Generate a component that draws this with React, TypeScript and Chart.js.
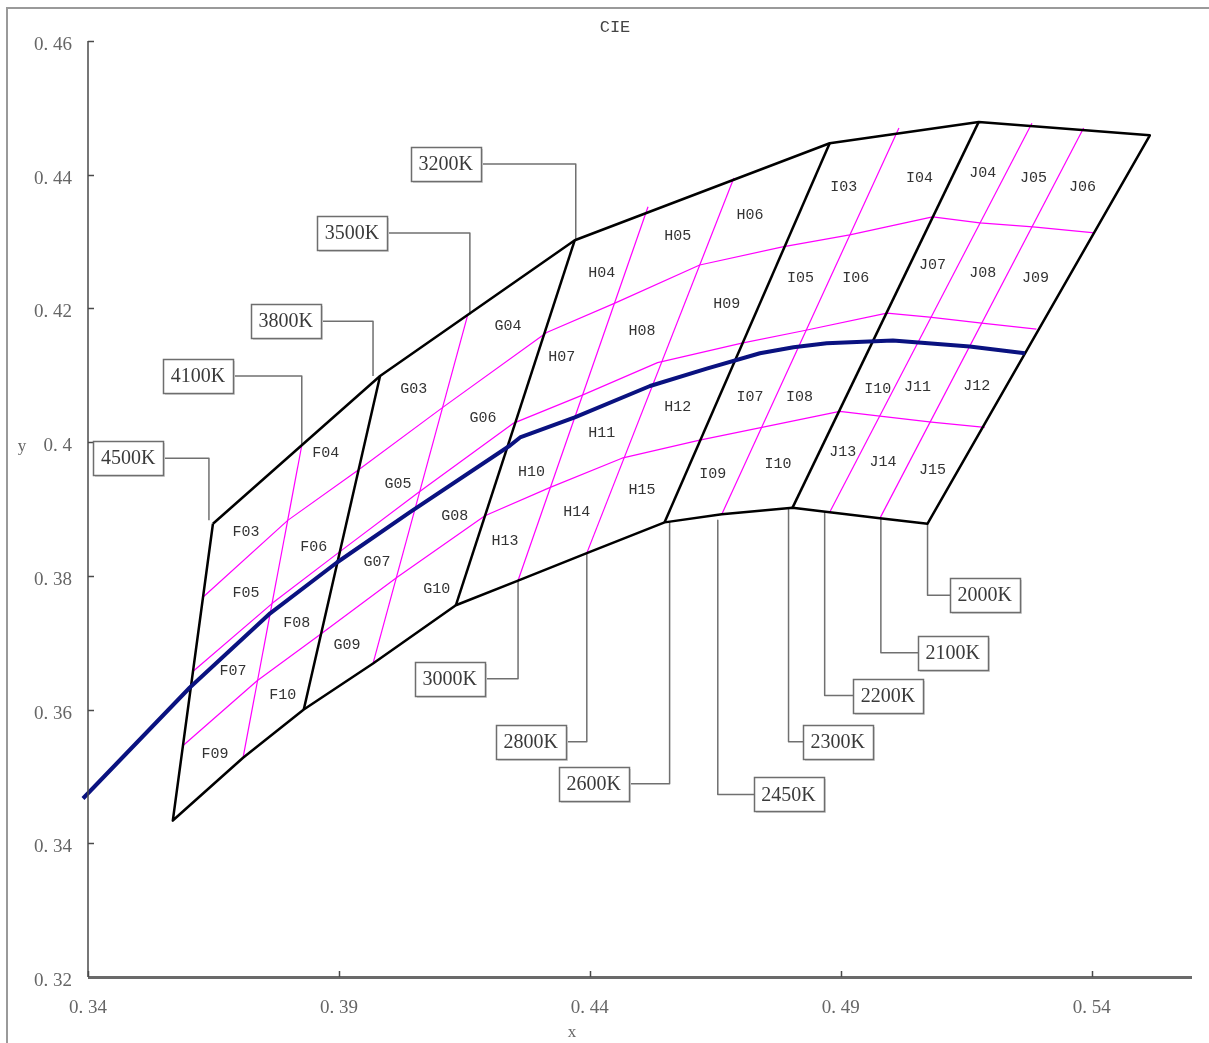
import { useEffect, useRef } from "react";
import { Chart, registerables } from "chart.js";

Chart.register(...registerables);

type Pt = [number, number];

const chartTitle = "CIE";
const xAxisTitle = "x";
const yAxisTitle = "y";
const xRange: Pt = [0.34, 0.56];
const yRange: Pt = [0.32, 0.46];
const xTicks = [0.34, 0.39, 0.44, 0.49, 0.54];
const xTickLabels = ["0. 34", "0. 39", "0. 44", "0. 49", "0. 54"];
const yTicks = [0.32, 0.34, 0.36, 0.38, 0.4, 0.42, 0.44, 0.46];
const yTickLabels = ["0. 32", "0. 34", "0. 36", "0. 38", "0. 4", "0. 42", "0. 44", "0. 46"];

// Outer boundary of the quadrangles (closed)
const outline: Pt[] = [
  [0.3649, 0.3878], [0.3982, 0.4099], [0.437, 0.4302], [0.4878, 0.4447], [0.5175, 0.4479],
  [0.5516, 0.4459], [0.5073, 0.3878], [0.4978, 0.3886], [0.4878, 0.3895], [0.4804, 0.3902],
  [0.4663, 0.3892], [0.4549, 0.388], [0.4394, 0.3834], [0.4257, 0.3793], [0.4133, 0.3756],
  [0.3968, 0.3669], [0.383, 0.36], [0.3709, 0.3528], [0.3569, 0.3434], [0.3649, 0.3878],
];

// Black block separators F|G, G|H, H|I, I|J
const dividerFG: Pt[] = [[0.3982, 0.4099], [0.383, 0.36]];
const dividerGH: Pt[] = [[0.437, 0.4302], [0.4133, 0.3756]];
const dividerHI: Pt[] = [[0.4878, 0.4447], [0.4549, 0.388]];
const dividerIJ: Pt[] = [[0.5175, 0.4479], [0.4804, 0.3902]];

// Magenta sub-divisions (along CCT)
const diagF: Pt[] = [[0.3826, 0.3995], [0.3709, 0.3528]];
const diagG: Pt[] = [[0.4157, 0.4191], [0.3968, 0.3669]];
const diagH1: Pt[] = [[0.4516, 0.4352], [0.4257, 0.3793]];
const diagH2: Pt[] = [[0.4687, 0.4395], [0.4394, 0.3834]];
const diagI: Pt[] = [[0.5016, 0.447], [0.4663, 0.3892]];
const diagJ1: Pt[] = [[0.5281, 0.4477], [0.4878, 0.3895]];
const diagJ2: Pt[] = [[0.5384, 0.447], [0.4978, 0.3886]];

// Magenta sub-divisions (across CCT)
const upperLine: Pt[] = [
  [0.3629, 0.3768], [0.3798, 0.3883], [0.3938, 0.3958], [0.4107, 0.4052], [0.4314, 0.4164],
  [0.445, 0.4208], [0.4619, 0.4265], [0.4784, 0.4292], [0.4918, 0.431], [0.5083, 0.4337],
  [0.5177, 0.4328], [0.5283, 0.4322], [0.5406, 0.4313],
];
const middleLine: Pt[] = [
  [0.3609, 0.3657], [0.3769, 0.376], [0.3898, 0.3834], [0.4059, 0.3925], [0.4247, 0.4028],
  [0.4384, 0.407], [0.4535, 0.4119], [0.4703, 0.4148], [0.4828, 0.4167], [0.4992, 0.4193],
  [0.5077, 0.4187], [0.5181, 0.4178], [0.529, 0.4169],
];
const lowerLine: Pt[] = [
  [0.3589, 0.3546], [0.3737, 0.3643], [0.3862, 0.3712], [0.4016, 0.3798], [0.4191, 0.389],
  [0.432, 0.3932], [0.4464, 0.3976], [0.4619, 0.4003], [0.4743, 0.4022], [0.4898, 0.4046],
  [0.4978, 0.4039], [0.5081, 0.403], [0.5187, 0.4022],
];

// Planckian locus (blue)
const planckian: Pt[] = [
  [0.339, 0.3467], [0.3603, 0.3633], [0.3763, 0.3744], [0.3896, 0.382], [0.4041, 0.3895],
  [0.4241, 0.3995], [0.4261, 0.4007], [0.437, 0.4037], [0.452, 0.4084], [0.4633, 0.411],
  [0.4739, 0.4133], [0.4806, 0.4142], [0.4872, 0.4148], [0.5004, 0.4152], [0.5157, 0.4143],
  [0.5267, 0.4133],
];

// Cell names
const cellNames = [
  "F03", "F04", "F05", "F06", "F07", "F08", "F09", "F10",
  "G03", "G04", "G05", "G06", "G07", "G08", "G09", "G10",
  "H04", "H05", "H06", "H07", "H08", "H09", "H10", "H11", "H12", "H13", "H14", "H15",
  "I03", "I04", "I05", "I06", "I07", "I08", "I09", "I10", "I10",
  "J04", "J05", "J06", "J07", "J08", "J09", "J11", "J12", "J13", "J14", "J15",
];
const cellX = [
  0.3715, 0.3874, 0.3715, 0.385, 0.3689, 0.3816, 0.3653, 0.3788,
  0.4049, 0.4237, 0.4018, 0.4187, 0.3976, 0.4131, 0.3916, 0.4095,
  0.4424, 0.4575, 0.4719, 0.4344, 0.4504, 0.4673, 0.4284, 0.4424, 0.4575, 0.4231, 0.4374, 0.4504,
  0.4906, 0.5057, 0.482, 0.493, 0.4719, 0.4818, 0.4645, 0.4775, 0.4974,
  0.5183, 0.5284, 0.5382, 0.5083, 0.5183, 0.5288, 0.5053, 0.5171, 0.4904, 0.4984, 0.5083,
];
const cellY = [
  0.3865, 0.3983, 0.3775, 0.3843, 0.3657, 0.3729, 0.3534, 0.3622,
  0.4079, 0.4173, 0.3938, 0.4036, 0.382, 0.3889, 0.3697, 0.378,
  0.4253, 0.4308, 0.434, 0.4128, 0.4166, 0.4206, 0.3955, 0.4013, 0.4052, 0.3852, 0.3895, 0.3929,
  0.4381, 0.4395, 0.4245, 0.4245, 0.4067, 0.4067, 0.3953, 0.3967, 0.4079,
  0.4402, 0.4395, 0.4381, 0.4265, 0.4253, 0.4245, 0.4082, 0.4084, 0.3985, 0.397, 0.3959,
];

// CCT call-outs
const cctNames = ["4500K", "4100K", "3800K", "3500K", "3200K", "3000K", "2800K", "2600K", "2450K", "2300K", "2200K", "2100K", "2000K"];
const cctAnchorX = [0.3641, 0.3826, 0.3968, 0.4161, 0.4372, 0.4257, 0.4394, 0.4559, 0.4655, 0.4796, 0.4868, 0.498, 0.5073];
const cctAnchorY = [0.3883, 0.3995, 0.4099, 0.4191, 0.4302, 0.3793, 0.3834, 0.388, 0.3883, 0.3902, 0.3895, 0.3886, 0.3878];
const cctBoxX = [0.348, 0.3619, 0.3794, 0.3926, 0.4113, 0.4121, 0.4282, 0.4408, 0.4796, 0.4894, 0.4994, 0.5123, 0.5187];
const cctBoxY = [0.3976, 0.4099, 0.4181, 0.4313, 0.4416, 0.3646, 0.3552, 0.3489, 0.3473, 0.3552, 0.3621, 0.3685, 0.3771];

const toXY = (pts: Pt[]) => pts.map(([x, y]) => ({ x, y }));

const lineSet = (pts: Pt[], color: string, width: number, order: number) => ({
  data: toXY(pts),
  showLine: true,
  borderColor: color,
  backgroundColor: color,
  borderWidth: width,
  pointRadius: 0,
  pointHoverRadius: 0,
  tension: 0,
  clip: false as any,
  order,
  borderJoinStyle: "round" as const,
  borderCapStyle: "butt" as const,
});

const decor = {
  id: "decor",
  beforeDraw(chart: any) {
    const { ctx, width, height } = chart;
    ctx.save();
    ctx.fillStyle = "#ffffff";
    ctx.fillRect(0, 0, width, height);
    ctx.restore();
  },
  afterDraw(chart: any) {
    const ctx: CanvasRenderingContext2D = chart.ctx;
    const xs = chart.scales.x;
    const ys = chart.scales.y;
    const area = chart.chartArea;
    ctx.save();

    // outer frame
    ctx.strokeStyle = "#9a9a9a";
    ctx.lineWidth = 2;
    ctx.strokeRect(7, 8, 1400, 1200);

    // y axis
    ctx.strokeStyle = "#4a4a4a";
    ctx.lineWidth = 1.5;
    ctx.beginPath();
    ctx.moveTo(area.left, area.top);
    ctx.lineTo(area.left, area.bottom);
    ctx.stroke();
    yTicks.forEach((v) => {
      const py = Math.round(ys.getPixelForValue(v)) + 0.5;
      ctx.beginPath();
      ctx.moveTo(area.left, py);
      ctx.lineTo(area.left + 6, py);
      ctx.stroke();
    });
    // x axis
    ctx.strokeStyle = "#6a6a6a";
    ctx.lineWidth = 3;
    ctx.beginPath();
    ctx.moveTo(area.left, area.bottom + 0.5);
    ctx.lineTo(area.right, area.bottom + 0.5);
    ctx.stroke();
    ctx.lineWidth = 1.5;
    ctx.strokeStyle = "#4a4a4a";
    xTicks.forEach((v) => {
      const px = Math.round(xs.getPixelForValue(v)) + 0.5;
      ctx.beginPath();
      ctx.moveTo(px, area.bottom);
      ctx.lineTo(px, area.bottom - 6);
      ctx.stroke();
    });

    // tick labels
    ctx.fillStyle = "#666666";
    ctx.font = '19px "Liberation Serif"';
    ctx.textBaseline = "middle";
    ctx.textAlign = "right";
    yTicks.forEach((v, i) => {
      ctx.fillText(yTickLabels[i], area.left - 16, ys.getPixelForValue(v) + 4);
    });
    ctx.textAlign = "center";
    xTicks.forEach((v, i) => {
      ctx.fillText(xTickLabels[i], xs.getPixelForValue(v), area.bottom + 31);
    });
    ctx.font = '17px "Liberation Serif"';
    ctx.fillText(xAxisTitle, 572, area.bottom + 56);
    ctx.fillText(yAxisTitle, 22, ys.getPixelForValue(0.4) + 4);

    // title
    ctx.fillStyle = "#444444";
    ctx.font = '17px "Liberation Mono"';
    ctx.fillText(chartTitle, 615, 27);

    // cell names
    ctx.fillStyle = "#333333";
    ctx.font = '15px "Liberation Mono"';
    cellNames.forEach((n, i) => {
      ctx.fillText(n, xs.getPixelForValue(cellX[i]), ys.getPixelForValue(cellY[i]));
    });

    // call-out boxes
    const bw = 70;
    const bh = 34;
    ctx.font = '20px "Liberation Serif"';
    cctNames.forEach((n, i) => {
      const cx = xs.getPixelForValue(cctBoxX[i]);
      const cy = ys.getPixelForValue(cctBoxY[i]);
      const l = Math.round(cx - bw / 2) + 0.5;
      const t = Math.round(cy - bh / 2) + 0.5;
      ctx.fillStyle = "#d8d8d8";
      ctx.fillRect(l + 1.5, t + 1.5, bw, bh);
      ctx.fillStyle = "#ffffff";
      ctx.fillRect(l, t, bw, bh);
      ctx.strokeStyle = "#6e6e6e";
      ctx.lineWidth = 1.5;
      ctx.strokeRect(l, t, bw, bh);
      ctx.fillStyle = "#3a3a3a";
      ctx.fillText(n, cx, cy + 1);
    });

    ctx.restore();
  },
};

export default function App() {
  const ref = useRef<HTMLCanvasElement | null>(null);

  useEffect(() => {
    if (!ref.current) return;
    const leaderSets = cctNames.map((_, i) =>
      lineSet(
        [
          [cctAnchorX[i], cctAnchorY[i]],
          [cctAnchorX[i], cctBoxY[i]],
          [cctBoxX[i], cctBoxY[i]],
        ],
        "#707070",
        1.5,
        5
      )
    );
    const magenta = "#ff00ff";
    const chart = new Chart(ref.current, {
      type: "scatter",
      data: {
        datasets: [
          lineSet(planckian, "#0a1280", 4, 0),
          lineSet(outline, "#000000", 2.5, 1),
          lineSet(dividerFG, "#000000", 2.5, 1),
          lineSet(dividerGH, "#000000", 2.5, 1),
          lineSet(dividerHI, "#000000", 2.5, 1),
          lineSet(dividerIJ, "#000000", 2.5, 1),
          lineSet(diagF, magenta, 1.2, 2),
          lineSet(diagG, magenta, 1.2, 2),
          lineSet(diagH1, magenta, 1.2, 2),
          lineSet(diagH2, magenta, 1.2, 2),
          lineSet(diagI, magenta, 1.2, 2),
          lineSet(diagJ1, magenta, 1.2, 2),
          lineSet(diagJ2, magenta, 1.2, 2),
          lineSet(upperLine, magenta, 1.2, 2),
          lineSet(middleLine, magenta, 1.2, 2),
          lineSet(lowerLine, magenta, 1.2, 2),
          ...leaderSets,
        ] as any,
      },
      options: {
        responsive: false,
        animation: false,
        devicePixelRatio: 1,
        events: [],
        layout: { padding: { left: 88, top: 41, right: 17, bottom: 66 } },
        plugins: {
          legend: { display: false },
          tooltip: { enabled: false },
          title: { display: false },
        },
        scales: {
          x: { type: "linear", min: xRange[0], max: xRange[1], display: false },
          y: { type: "linear", min: yRange[0], max: yRange[1], display: false },
        },
      },
      plugins: [decor],
    });
    return () => chart.destroy();
  }, []);

  return (
    <canvas
      ref={ref}
      width={1209}
      height={1043}
      style={{ position: "absolute", left: 0, top: 0, width: 1209, height: 1043, display: "block" }}
    />
  );
}
